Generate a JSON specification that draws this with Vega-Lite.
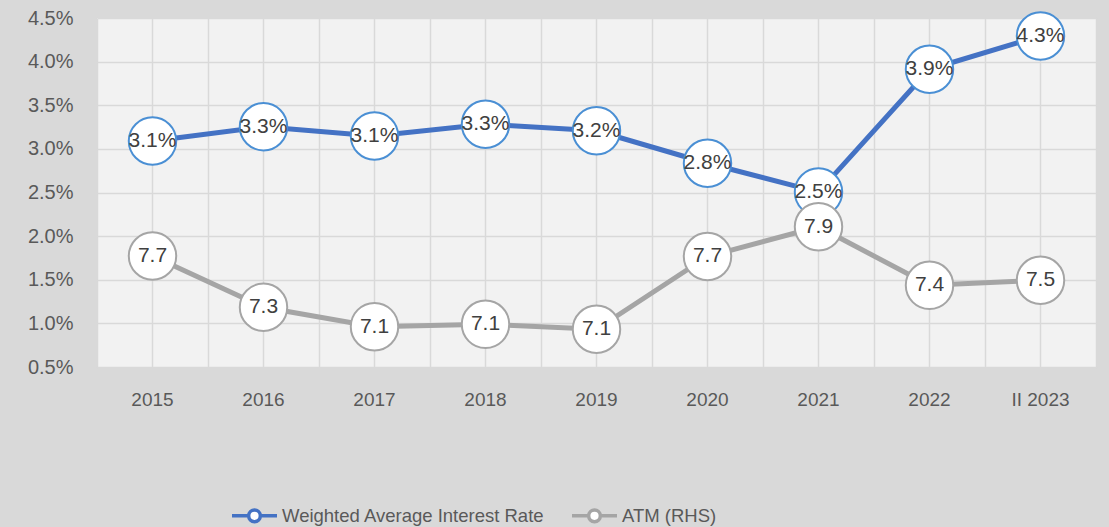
{
  "$schema": "https://vega.github.io/schema/vega-lite/v6.json",
  "width": 999,
  "height": 349,
  "autosize": {"type": "none"},
  "padding": {"left": 97, "top": 18, "right": 13, "bottom": 160},
  "background": "#d9d9d9",
  "config": {
    "view": {"fill": "#f2f2f2", "stroke": null},
    "font": "Liberation Sans"
  },
  "data": {
    "values": [
      {"year": "2015", "series": "Weighted Average Interest Rate", "value": 0.0309},
      {"year": "2016", "series": "Weighted Average Interest Rate", "value": 0.03254},
      {"year": "2017", "series": "Weighted Average Interest Rate", "value": 0.03148},
      {"year": "2018", "series": "Weighted Average Interest Rate", "value": 0.03282},
      {"year": "2019", "series": "Weighted Average Interest Rate", "value": 0.03208},
      {"year": "2020", "series": "Weighted Average Interest Rate", "value": 0.02835},
      {"year": "2021", "series": "Weighted Average Interest Rate", "value": 0.02505},
      {"year": "2022", "series": "Weighted Average Interest Rate", "value": 0.03912},
      {"year": "II 2023", "series": "Weighted Average Interest Rate", "value": 0.04294},
      {"year": "2015", "series": "ATM (RHS)", "value": 7.659},
      {"year": "2016", "series": "ATM (RHS)", "value": 7.262},
      {"year": "2017", "series": "ATM (RHS)", "value": 7.112},
      {"year": "2018", "series": "ATM (RHS)", "value": 7.13},
      {"year": "2019", "series": "ATM (RHS)", "value": 7.092},
      {"year": "2020", "series": "ATM (RHS)", "value": 7.655},
      {"year": "2021", "series": "ATM (RHS)", "value": 7.885},
      {"year": "2022", "series": "ATM (RHS)", "value": 7.432},
      {"year": "II 2023", "series": "ATM (RHS)", "value": 7.471}
    ]
  },
  "layer": [
    {
      "transform": [{"filter": "datum.series === 'Weighted Average Interest Rate'"}],
      "encoding": {
        "x": {
          "field": "year", "type": "ordinal", "sort": null,
          "scale": {"type": "band", "paddingInner": 0, "paddingOuter": 0},
          "axis": {
            "title": null, "labelAngle": 0, "domain": false, "ticks": false,
            "grid": true, "gridColor": "#d9d9d9", "gridWidth": 1.5,
            "labelFontSize": 19, "labelColor": "#595959", "labelPadding": 23
          }
        },
        "y": {
          "field": "value", "type": "quantitative",
          "scale": {"domain": [0.005, 0.045], "nice": false, "zero": false},
          "axis": {
            "title": null, "format": ".1%", "values": [0.005, 0.01, 0.015, 0.02, 0.025, 0.03, 0.035, 0.04, 0.045],
            "domain": false, "ticks": false, "grid": true, "gridColor": "#d9d9d9", "gridWidth": 1.5,
            "labelFontSize": 20, "labelColor": "#595959", "labelPadding": 24
          }
        }
      },
      "layer": [
        {
          "mark": {"type": "line", "strokeWidth": 5},
          "encoding": {
            "color": {
              "field": "series", "type": "nominal",
              "scale": {"domain": ["Weighted Average Interest Rate", "ATM (RHS)"], "range": ["#4472c4", "#a5a5a5"]},
              "legend": {
                "orient": "none", "legendX": 133, "legendY": 473, "direction": "horizontal", "title": null,
                "symbolType": "M-1,0L-0.26,0M0.26,0L1,0M-0.26,0A0.26,0.26 0 1,1 0.26,0A0.26,0.26 0 1,1 -0.26,0Z",
                "symbolSize": 2025, "symbolStrokeWidth": 3.5, "symbolFillColor": "white",
                "labelFontSize": 18.5, "labelColor": "#595959", "labelLimit": 0, "columnPadding": 20, "labelOffset": 3
              }
            }
          }
        },
        {
          "mark": {"type": "point", "filled": true, "fill": "white", "stroke": "#4a8fd4", "strokeWidth": 2, "size": 2250, "opacity": 1}
        },
        {
          "mark": {"type": "text", "fontSize": 21, "color": "#404040"},
          "encoding": {"text": {"field": "value", "type": "quantitative", "format": ".1%"}}
        }
      ]
    },
    {
      "transform": [{"filter": "datum.series === 'ATM (RHS)'"}],
      "encoding": {
        "x": {
          "field": "year", "type": "ordinal", "sort": null,
          "scale": {"type": "band", "paddingInner": 0, "paddingOuter": 0},
          "axis": {
            "orient": "top", "title": null, "labels": false, "domain": false, "ticks": false,
            "grid": true, "tickBand": "extent", "gridColor": "#d9d9d9", "gridWidth": 1.5
          }
        },
        "y": {
          "field": "value", "type": "quantitative",
          "scale": {"domain": [6.8, 9.5], "nice": false, "zero": false},
          "axis": null
        }
      },
      "layer": [
        {
          "mark": {"type": "line", "strokeWidth": 5},
          "encoding": {
            "color": {
              "field": "series", "type": "nominal",
              "scale": {"domain": ["Weighted Average Interest Rate", "ATM (RHS)"], "range": ["#4472c4", "#a5a5a5"]}
            }
          }
        },
        {
          "mark": {"type": "point", "filled": true, "fill": "white", "stroke": "#a5a5a5", "strokeWidth": 2, "size": 2250, "opacity": 1}
        },
        {
          "mark": {"type": "text", "fontSize": 21, "color": "#404040"},
          "encoding": {"text": {"field": "value", "type": "quantitative", "format": ".1f"}}
        }
      ]
    }
  ],
  "resolve": {"scale": {"y": "independent"}, "axis": {"x": "independent"}}
}
